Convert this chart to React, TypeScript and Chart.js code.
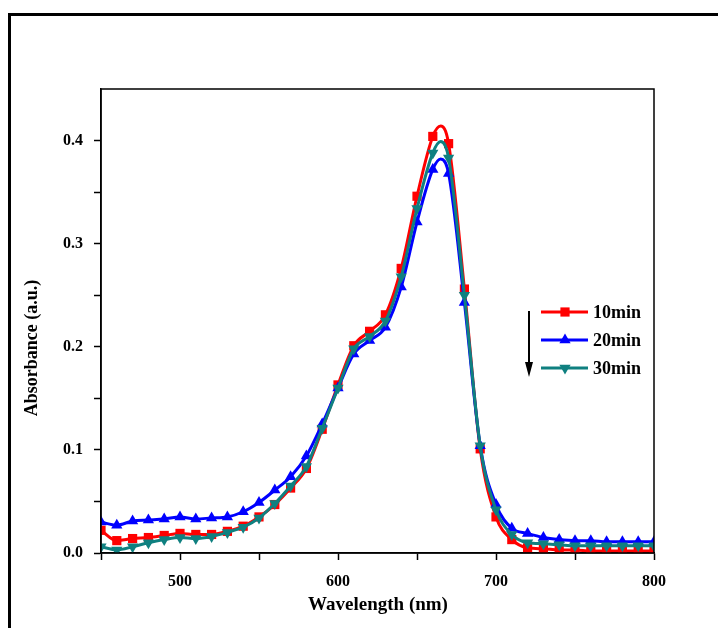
import React, { useEffect, useRef } from "react";
import { Chart, registerables } from "chart.js";

Chart.register(...registerables);

// ---- data ----
const wavelengths = [
  450, 460, 470, 480, 490, 500, 510, 520, 530, 540, 550, 560, 570, 580, 590, 600,
  610, 620, 630, 640, 650, 660, 665, 670, 680, 690, 700, 710, 720, 730, 740, 750,
  760, 770, 780, 790, 800,
];

const abs10min = [
  0.022, 0.012, 0.014, 0.015, 0.017, 0.019, 0.018, 0.018, 0.021, 0.026, 0.035, 0.047,
  0.063, 0.082, 0.12, 0.163, 0.201, 0.215, 0.231, 0.276, 0.346, 0.404, 0.414, 0.397,
  0.256, 0.101, 0.035, 0.013, 0.005, 0.004, 0.003, 0.003, 0.002, 0.002, 0.002, 0.002,
  0.002,
];

const abs20min = [
  0.03, 0.027, 0.031, 0.032, 0.033, 0.035, 0.033, 0.034, 0.035, 0.04, 0.049, 0.061,
  0.074, 0.094, 0.125, 0.16, 0.193, 0.206, 0.219, 0.258, 0.321, 0.372, 0.382, 0.368,
  0.243, 0.104, 0.047, 0.024, 0.019, 0.015, 0.013, 0.012, 0.012, 0.011, 0.011, 0.011,
  0.011,
];

const abs30min = [
  0.006, 0.003, 0.006, 0.01, 0.013, 0.015, 0.014, 0.016, 0.02, 0.025, 0.034, 0.048,
  0.065, 0.084, 0.121, 0.16, 0.198, 0.21, 0.225, 0.268, 0.334, 0.388, 0.399, 0.383,
  0.25, 0.104, 0.042, 0.018, 0.01, 0.009, 0.008, 0.007, 0.007, 0.007, 0.007, 0.007,
  0.007,
];

const seriesLabels = ["10min", "20min", "30min"];
const xTickValues = [450, 500, 550, 600, 650, 700, 750, 800];
const yTickValues = [0, 0.05, 0.1, 0.15, 0.2, 0.25, 0.3, 0.35, 0.4];
const xTitle = "Wavelength (nm)";
const yTitle = "Absorbance (a.u.)";

const RED = "#FF0000";
const BLUE = "#0000FF";
const TEAL = "#0F8080";
const FONT = '"Liberation Serif", "Times New Roman", serif';
const PR = 6.5;

function toPoints(vals: number[]) {
  return wavelengths.map((w, i) => ({ x: w, y: vals[i] }));
}

function markerRadius(ctx: any) {
  const raw = ctx.raw;
  if (!raw) return 0;
  return raw.x % 10 === 0 ? PR : 0;
}

function drawMarker(ctx: CanvasRenderingContext2D, style: string, x: number, y: number, r: number, color: string) {
  ctx.fillStyle = color;
  ctx.beginPath();
  if (style === "rect") {
    const s = Math.SQRT1_2 * r;
    ctx.rect(x - s, y - s, 2 * s, 2 * s);
  } else {
    let rad = style === "down" ? Math.PI : 0;
    for (let k = 0; k < 3; k++) {
      const px = x + Math.sin(rad) * r;
      const py = y - Math.cos(rad) * r;
      if (k === 0) ctx.moveTo(px, py);
      else ctx.lineTo(px, py);
      rad += (2 * Math.PI) / 3;
    }
  }
  ctx.closePath();
  ctx.fill();
}

const overlayPlugin = {
  id: "overlay",
  afterDraw(chart: any) {
    const { ctx, chartArea: a } = chart;
    ctx.save();
    // plot frame
    ctx.strokeStyle = "#000";
    ctx.lineWidth = 1.5;
    ctx.strokeRect(a.left, a.top, a.right - a.left, a.bottom - a.top);

    // axis titles
    ctx.fillStyle = "#000";
    ctx.textAlign = "center";
    ctx.textBaseline = "middle";
    ctx.font = `bold 19px ${FONT}`;
    ctx.fillText(xTitle, 378, 605);
    ctx.save();
    ctx.translate(32, 348);
    ctx.rotate(-Math.PI / 2);
    ctx.font = `bold 18px ${FONT}`;
    ctx.fillText(yTitle, 0, 0);
    ctx.restore();

    // legend
    const colors = [RED, BLUE, TEAL];
    const styles = ["rect", "up", "down"];
    const rowY = [312, 340, 368];
    ctx.font = `bold 18px ${FONT}`;
    ctx.textAlign = "left";
    for (let i = 0; i < 3; i++) {
      ctx.strokeStyle = colors[i];
      ctx.lineWidth = 3;
      ctx.beginPath();
      ctx.moveTo(541, rowY[i]);
      ctx.lineTo(588, rowY[i]);
      ctx.stroke();
      drawMarker(ctx, styles[i], 565, rowY[i], PR, colors[i]);
      ctx.fillStyle = "#000";
      ctx.fillText(seriesLabels[i], 593, rowY[i] + 1);
    }
    // arrow
    ctx.strokeStyle = "#000";
    ctx.fillStyle = "#000";
    ctx.lineWidth = 2;
    ctx.beginPath();
    ctx.moveTo(529, 311);
    ctx.lineTo(529, 366);
    ctx.stroke();
    ctx.beginPath();
    ctx.moveTo(525, 362);
    ctx.lineTo(533, 362);
    ctx.lineTo(529, 377);
    ctx.closePath();
    ctx.fill();
    ctx.restore();
  },
};

export default function App() {
  const canvasRef = useRef<HTMLCanvasElement | null>(null);

  useEffect(() => {
    const canvas = canvasRef.current;
    if (!canvas) return;
    const common = {
      borderWidth: 3,
      pointRadius: markerRadius,
      pointHoverRadius: markerRadius,
      pointBorderWidth: 0,
      cubicInterpolationMode: "monotone" as const,
      clip: 0,
      fill: false,
    };
    const chart = new Chart(canvas, {
      type: "line",
      data: {
        datasets: [
          {
            ...common,
            label: seriesLabels[0],
            data: toPoints(abs10min),
            borderColor: RED,
            backgroundColor: RED,
            pointBackgroundColor: RED,
            pointStyle: "rect",
            order: 2,
          },
          {
            ...common,
            label: seriesLabels[1],
            data: toPoints(abs20min),
            borderColor: BLUE,
            backgroundColor: BLUE,
            pointBackgroundColor: BLUE,
            pointStyle: "triangle",
            order: 1,
          },
          {
            ...common,
            label: seriesLabels[2],
            data: toPoints(abs30min),
            borderColor: TEAL,
            backgroundColor: TEAL,
            pointBackgroundColor: TEAL,
            pointStyle: "triangle",
            pointRotation: 180,
            order: 0,
          },
        ],
      },
      options: {
        responsive: false,
        animation: false,
        devicePixelRatio: 1,
        layout: { padding: { left: 0, top: 89, right: 64, bottom: 0 } },
        plugins: {
          legend: { display: false },
          tooltip: { enabled: false },
          title: { display: false },
        },
        scales: {
          x: {
            type: "linear",
            min: 450,
            max: 800,
            afterBuildTicks: (scale: any) => {
              scale.ticks = xTickValues.map((v) => ({ value: v }));
            },
            afterFit: (scale: any) => {
              scale.height = 75;
            },
            grid: {
              drawOnChartArea: false,
              drawTicks: true,
              tickLength: 7,
              tickWidth: 1.5,
              tickColor: "#000",
            },
            border: { display: true, color: "#000", width: 1.5 },
            ticks: {
              autoSkip: false,
              maxRotation: 0,
              padding: 12,
              color: "#000",
              font: { family: FONT, size: 16, weight: "bold" },
              callback: (v: any) => (Number(v) % 100 === 0 ? String(v) : ""),
            },
          },
          y: {
            type: "linear",
            min: 0,
            max: 0.45,
            afterBuildTicks: (scale: any) => {
              scale.ticks = yTickValues.map((v) => ({ value: v }));
            },
            afterFit: (scale: any) => {
              scale.width = 101;
            },
            grid: {
              drawOnChartArea: false,
              drawTicks: true,
              tickLength: 7,
              tickWidth: 1.5,
              tickColor: "#000",
            },
            border: { display: true, color: "#000", width: 1.5 },
            ticks: {
              autoSkip: false,
              padding: 11,
              color: "#000",
              font: { family: FONT, size: 16, weight: "bold" },
              callback: (v: any) => {
                const n = Number(v);
                const r = Math.round(n * 100);
                return r % 10 === 0 ? n.toFixed(1) : "";
              },
            },
          },
        },
      },
      plugins: [overlayPlugin],
    } as any);
    return () => chart.destroy();
  }, []);

  return (
    <div
      style={{
        position: "fixed",
        left: 0,
        top: 0,
        width: 718,
        height: 628,
        background: "#fff",
        overflow: "hidden",
      }}
    >
      <canvas
        ref={canvasRef}
        width={718}
        height={628}
        style={{ position: "absolute", left: 0, top: 0, width: 718, height: 628 }}
      />
      <div
        style={{
          position: "absolute",
          left: 8,
          top: 13,
          width: 800,
          height: 700,
          borderLeft: "3px solid #000",
          borderTop: "3px solid #000",
          pointerEvents: "none",
        }}
      />
    </div>
  );
}
